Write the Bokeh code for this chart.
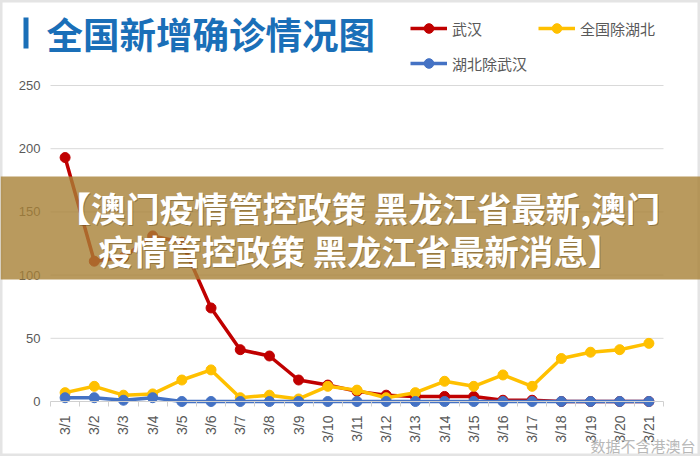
import math
from bokeh.plotting import figure
from bokeh.models import (Range1d, FixedTicker, Label, BoxAnnotation, Legend, LegendItem,
                          LinearAxis)
from bokeh.embed import file_html
from bokeh.resources import INLINE

# ---- data ----
dates = ["3/1", "3/2", "3/3", "3/4", "3/5", "3/6", "3/7", "3/8", "3/9", "3/10", "3/11",
         "3/12", "3/13", "3/14", "3/15", "3/16", "3/17", "3/18", "3/19", "3/20", "3/21"]
wuhan = [193, 111, 114, 131, 126, 74, 41, 36, 17, 13, 8, 5, 4, 4, 4, 1, 1, 0, 0, 0, 0]
outside_hubei = [7, 12, 5, 6, 17, 25, 3, 5, 2, 12, 9, 3, 7, 16, 12, 21, 12, 34, 39, 41, 46]
hubei_ex_wuhan = [3, 3, 1, 3, 0, 0, 0, 0, 0, 0, 0, 0, 0, 0, 0, 0, 0, 0, 0, 0, 0]
series_names = ["武汉", "全国除湖北", "湖北除武汉"]
y_ticks = [0, 50, 100, 150, 200, 250]
title_text = "全国新增确诊情况图"
banner_line1 = "【澳门疫情管控政策 黑龙江省最新,澳门"
banner_line2 = "疫情管控政策 黑龙江省最新消息】"
note_text = "数据不含港澳台"

RED = "#C00000"
YELLOW = "#FFC000"
BLUE = "#4472C4"
TITLE_BLUE = "#1A6FB8"
GRAY = "#595959"
CJK = "Noto Sans CJK SC"

W, H = 700, 456
# plot-area geometry (pixels)
PL, PR, PT, PB = 50, 663, 85, 401
n = len(dates)
step = (PR - PL) / n
ppu = (PB - PT) / y_ticks[-1]
x_start = -0.5 - PL / step
x_end = n - 0.5 + (W - PR) / step
y_start = -(H - PB) / ppu
y_end = PB / ppu

x = list(range(n))

p = figure(width=W, height=H, output_backend="svg", toolbar_location=None,
           x_range=Range1d(x_start, x_end), y_range=Range1d(y_start, y_end),
           x_axis_location=None, y_axis_location=None,
           min_border=0, min_border_left=0, min_border_right=0,
           min_border_top=0, min_border_bottom=0)
p.outline_line_color = "#e4e4e4"
p.outline_line_width = 4
p.background_fill_color = "white"
p.border_fill_color = "white"
p.xgrid.visible = False
p.ygrid.visible = False

# horizontal grid lines (50..250)
grid_vals = y_ticks[1:]
p.segment(x0=[-0.5] * len(grid_vals), x1=[n - 0.5] * len(grid_vals),
          y0=grid_vals, y1=grid_vals, line_color="#d9d9d9", line_width=1)

# x axis fixed at y = 0
xa = LinearAxis(fixed_location=0, bounds=(-0.5, n - 0.5))
xa.ticker = FixedTicker(ticks=x, minor_ticks=[i - 0.5 for i in range(n + 1)])
xa.major_label_overrides = {i: d for i, d in enumerate(dates)}
xa.axis_line_color = "#d0d0d0"
xa.axis_line_width = 1
xa.major_tick_line_color = None
xa.major_tick_out = 0
xa.major_tick_in = 0
xa.minor_tick_line_color = "#d0d0d0"
xa.minor_tick_in = 0
xa.minor_tick_out = 5
xa.major_label_orientation = math.pi / 2
xa.major_label_standoff = 9
xa.major_label_text_font = "Liberation Sans"
xa.major_label_text_font_size = "14px"
xa.major_label_text_color = GRAY
p.add_layout(xa, "below")

# y axis fixed at the left edge of the plot area
ya = LinearAxis(fixed_location=-0.5, bounds=(0, y_ticks[-1]))
ya.ticker = FixedTicker(ticks=y_ticks)
ya.axis_line_color = None
ya.major_tick_line_color = None
ya.minor_tick_line_color = None
ya.major_tick_out = 0
ya.major_tick_in = 0
ya.major_label_standoff = 10
ya.major_label_text_font = "Liberation Sans"
ya.major_label_text_font_size = "13px"
ya.major_label_text_color = GRAY
p.add_layout(ya, "left")

items = []
for name, vals, col in zip(series_names, [wuhan, outside_hubei, hubei_ex_wuhan], [RED, YELLOW, BLUE]):
    lr = p.line(x, vals, line_color=col, line_width=3.5)
    sr = p.scatter(x, vals, size=10, fill_color=col, line_color=col)
    items.append(LegendItem(label=name, renderers=[lr, sr]))

legend = Legend(items=items, orientation="horizontal", ncols=2, location=(410, H - 75),
                glyph_width=37, glyph_height=24, label_height=24, label_standoff=5,
                spacing=11, padding=0, margin=0, border_line_color=None,
                background_fill_alpha=0, label_text_font=CJK, label_text_font_size="15px",
                label_text_color=GRAY)
p.add_layout(legend)

# title with its blue bar
p.add_layout(BoxAnnotation(left=23, right=28, bottom=H - 48, top=H - 17,
                           left_units="screen", right_units="screen",
                           bottom_units="screen", top_units="screen",
                           fill_color=TITLE_BLUE, fill_alpha=1, line_color=None))
p.add_layout(Label(x=46, y=H - 33, x_units="screen", y_units="screen", text=title_text,
                   text_font=CJK, text_font_size="36.5px", text_font_style="bold",
                   text_color=TITLE_BLUE, text_baseline="middle", text_align="left"))

# watermark
p.add_layout(Label(x=590, y=H - 445, x_units="screen", y_units="screen", text=note_text,
                   text_font=CJK, text_font_size="15px", text_color="#b8b8b8",
                   text_baseline="middle", text_align="left"))

# banner overlay
p.add_layout(BoxAnnotation(left=0, right=W, bottom=H - 279, top=H - 176,
                           left_units="screen", right_units="screen",
                           bottom_units="screen", top_units="screen",
                           fill_color="#A78136", fill_alpha=0.8, line_color=None,
                           level="overlay"))
for txt, lx, py in [(banner_line1, 56, 206), (banner_line2, 98, 249)]:
    p.add_layout(Label(x=lx, y=H - py, x_units="screen", y_units="screen", text=txt,
                       x_offset=1, y_offset=-1,
                       text_font=CJK, text_font_size="34.4px", text_font_style="bold",
                       text_color="#4a3510", text_alpha=0.35, text_baseline="middle",
                       level="overlay"))
    p.add_layout(Label(x=lx, y=H - py, x_units="screen", y_units="screen", text=txt,
                       text_font=CJK, text_font_size="34.4px", text_font_style="bold",
                       text_color="white", text_baseline="middle", level="overlay"))

open("out.html", "w").write(file_html(p, INLINE))
